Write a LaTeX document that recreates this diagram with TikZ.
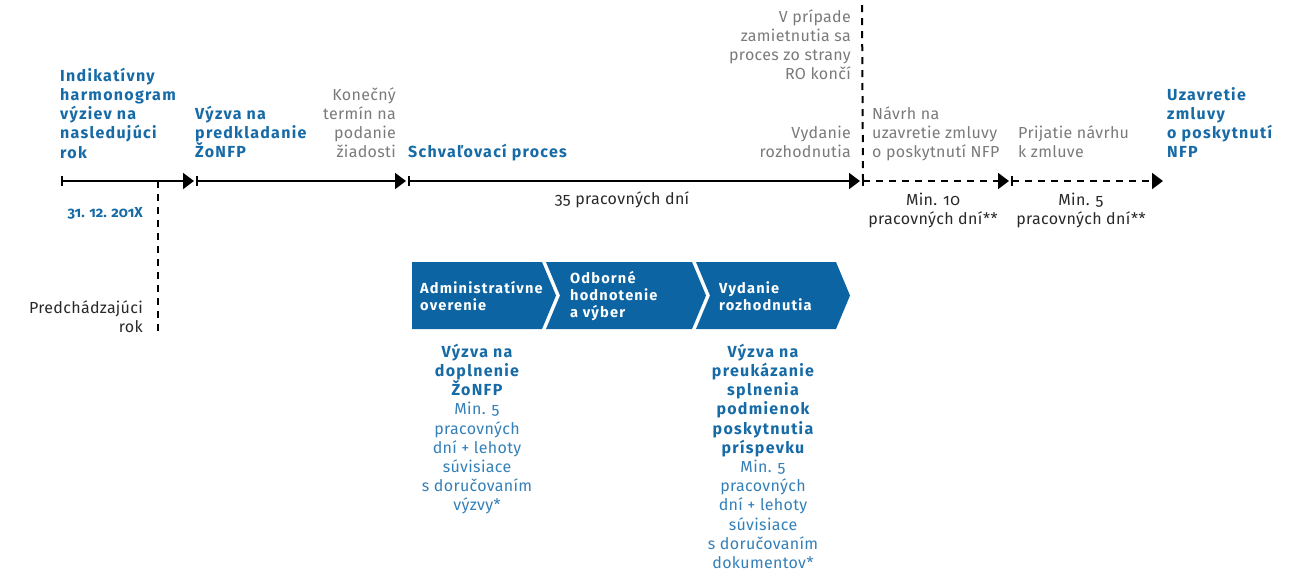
\documentclass[tikz,border=0pt]{standalone}
\usepackage{fontspec}
\setmainfont{Fira Sans}[Numbers=OldStyle, UprightFeatures={LetterSpace=2}, BoldFeatures={LetterSpace=8}]
\newfontfamily\datefont{Fira Sans}[Numbers=OldStyle]
\usetikzlibrary{arrows.meta}

\definecolor{accent}{RGB}{22,106,166}
\definecolor{accentlight}{RGB}{52,128,184}
\definecolor{boxfill}{RGB}{12,100,162}
\definecolor{note}{RGB}{122,122,122}
\definecolor{ink}{RGB}{40,40,40}

% strut fixing the top of every first line at 16pt above its baseline
\newcommand\fl{\rule{0pt}{16pt}}

\tikzset{
  lbl/.style={inner sep=0pt, font=\fontsize{16}{19.2}\selectfont},
  head/.style={inner sep=0pt, text=accent, font=\fontsize{16}{19.2}\selectfont\bfseries},
  grey/.style={lbl, text=note},
  dark/.style={lbl, text=ink},
  boxtext/.style={inner sep=0pt, text=white, align=left, anchor=north west,
                  font=\fontsize{14.6}{17.3}\selectfont\bfseries},
  axis/.style={line width=2pt, black},
  tipped/.style={-{Triangle[length=11pt,width=16pt]}, shorten >=3pt},
  tick/.style={line width=1.6pt, black},
  guide/.style={line width=2pt, black, dash pattern=on 7pt off 6pt},
  chev/.style={fill=boxfill, draw=none},
}

\begin{document}
\begin{tikzpicture}[x=1pt,y=-1pt]
\useasboundingbox (0,0) rectangle (1297,574);

% ---- points on the time axis
\coordinate (t0) at (62,181);
\coordinate (t1) at (197,181);
\coordinate (t2) at (409,181);
\coordinate (t3) at (863,181);
\coordinate (t4) at (1012,181);
\coordinate (t5) at (1166,181);

% ---- vertical guides
\coordinate (yearend) at (158,181);
\coordinate (yearfoot) at (158,333);
\coordinate (rejtop) at (862,5);
\draw[guide] (yearend) -- (yearfoot);
\draw[guide] (rejtop) -- (t3);

% ---- axis segments
\draw[axis, tipped] (t0) -- (t1);
\draw[axis, tipped] (t1) -- (t2);
\draw[axis, tipped] (t2) -- (t3);
\draw[axis, tipped, dash pattern=on 7pt off 6pt] (t3) -- (t4);
\draw[axis, tipped, dash pattern=on 7pt off 6pt] (t4) -- (t5);
\foreach \p in {t0,t1,t2,t3,t4}
  \draw[tick] (\p) ++(0,-5) -- ++(0,10);

% ---- labels above the axis
\node[head, align=left, anchor=north west] (plan) at (60,65)
  {\fl Indikatívny\\harmonogram\\výziev na\\nasledujúci\\rok};
\node[head, align=left, anchor=north west] (call) at (195,103)
  {\fl Výzva na\\predkladanie\\ŽoNFP};
\node[grey, align=right, anchor=north east] (deadline) at (396,84)
  {\fl Konečný\\termín na\\podanie\\žiadosti};
\node[head, align=left, anchor=north west] (approval) at (408,141)
  {\fl Schvaľovací proces};
\node[grey, align=right, anchor=north east] (reject) at (851,6)
  {\fl V prípade\\zamietnutia sa\\proces zo strany\\RO končí};
\node[grey, align=right, anchor=north east] (decision) at (851,122)
  {\fl Vydanie\\rozhodnutia};
\node[grey, align=left, anchor=north west] (proposal) at (872,103)
  {\fl Návrh na\\uzavretie zmluvy\\o poskytnutí NFP};
\node[grey, align=left, anchor=north west] (accept) at (1018,122)
  {\fl Prijatie návrhu\\k zmluve};
\node[head, align=left, anchor=north west] (contract) at (1167,84)
  {\fl Uzavretie\\zmluvy\\o poskytnutí\\NFP};

% ---- labels below the axis
\node[inner sep=0pt, text=accent, anchor=north east] (date) at (143,201)
  {\fontsize{14.5}{19.2}\datefont\bfseries\fl 31. 12. 201X};
\node[dark, align=center, anchor=north] (days35) at (622,188)
  {\fl 35 pracovných dní};
\node[dark, align=center, anchor=north] (days10) at (933,189)
  {\fl Min. 10\\pracovných dní**};
\node[dark, align=center, anchor=north] (days5) at (1081,189)
  {\fl Min. 5\\pracovných dní**};
\node[dark, align=right, anchor=north east] (prevyear) at (143,297)
  {\fl Predchádzajúci\\rok};

% ---- process chevrons
\fill[chev] (412,262) -- (542,262) -- (556,295.5) -- (542,329) -- (412,329) -- cycle;
\fill[chev] (546,262) -- (692,262) -- (706,295.5) -- (692,329) -- (546,329) -- (560,295.5) -- cycle;
\fill[chev] (696,262) -- (836,262) -- (850,295.5) -- (836,329) -- (696,329) -- (710,295.5) -- cycle;
\node[boxtext] (admin) at (420,277) {\fl Administratívne\\overenie};
\node[boxtext] (expert) at (570,267) {\fl Odborné\\hodnotenie\\a výber};
\node[boxtext] (issue) at (719,277) {\fl Vydanie\\rozhodnutia};

% ---- requests under the chevrons
\node[head, align=center, anchor=north] (supplementhead) at (477,341)
  {\fl Výzva na\\doplnenie\\ŽoNFP};
\node[lbl, text=accentlight, align=center, anchor=north] (supplementbody) at (477,398.6)
  {\fl Min. 5\\pracovných\\dní + lehoty\\súvisiace\\s doručovaním\\výzvy*};
\node[head, align=center, anchor=north] (proofhead) at (763,341)
  {\fl Výzva na\\preukázanie\\splnenia\\podmienok\\poskytnutia\\príspevku};
\node[lbl, text=accentlight, align=center, anchor=north] (proofbody) at (763,456.2)
  {\fl Min. 5\\pracovných\\dní + lehoty\\súvisiace\\s doručovaním\\dokumentov*};
\end{tikzpicture}
\end{document}
